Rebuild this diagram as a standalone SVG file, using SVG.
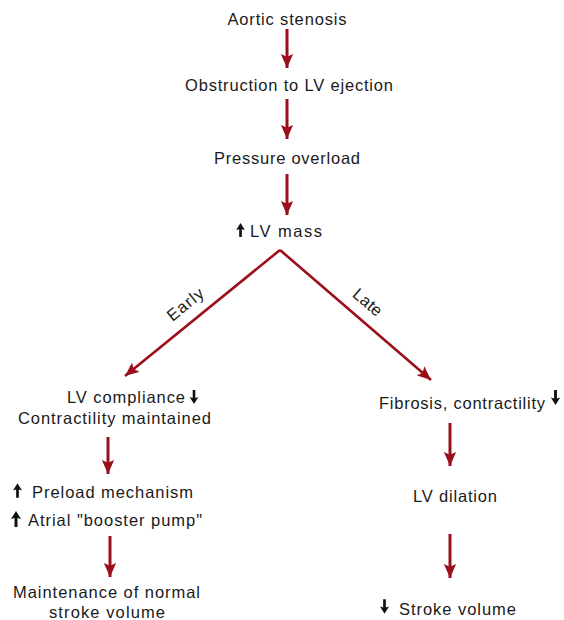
<svg xmlns="http://www.w3.org/2000/svg" width="564" height="620" viewBox="0 0 564 620">
<defs>
<style>
text{font-family:"Liberation Sans",Arial,sans-serif;font-size:16.5px;fill:#1a1a1a;}
.c{text-anchor:middle;}
.conn{stroke:#9b0f1a;fill:none;}
.v{stroke-width:3;}
.d{stroke-width:2.6;}
.sym{fill:#111;}
</style>
<marker id="hv" markerUnits="userSpaceOnUse" markerWidth="14" markerHeight="18" refX="16" refY="7" orient="auto" viewBox="0 0 16 14">
<path d="M0,0 L16,7 L0,14 L3,7 Z" fill="#9b0f1a"/>
</marker>
<marker id="hd" markerUnits="userSpaceOnUse" markerWidth="14" markerHeight="12" refX="14" refY="6" orient="auto" viewBox="0 0 14 12">
<path d="M0,0 L14,6 L0,12 L3,6 Z" fill="#9b0f1a"/>
</marker>
<symbol id="up" viewBox="0 0 10 16" overflow="visible">
<path d="M5,0 L10,8 L6.5,7 L6.5,16 L3.5,16 L3.5,7 L0,8 Z"/>
</symbol>
<symbol id="dn" viewBox="0 0 10 16" overflow="visible">
<path d="M5,16 L10,8 L6.5,9 L6.5,0 L3.5,0 L3.5,9 L0,8 Z"/>
</symbol>
</defs>
<rect width="564" height="620" fill="#fff"/>

<g id="connectors">
<line class="conn v" x1="287" y1="29" x2="287" y2="68" marker-end="url(#hv)"/>
<line class="conn v" x1="287" y1="99" x2="287" y2="139" marker-end="url(#hv)"/>
<line class="conn v" x1="287" y1="174" x2="287" y2="215" marker-end="url(#hv)"/>
<line class="conn d" x1="280" y1="250" x2="125" y2="376" marker-end="url(#hd)"/>
<line class="conn d" x1="280" y1="250" x2="431" y2="380" marker-end="url(#hd)"/>
<line class="conn v" x1="108" y1="437" x2="108" y2="474" marker-end="url(#hv)"/>
<line class="conn v" x1="110" y1="536" x2="110" y2="577" marker-end="url(#hv)"/>
<line class="conn v" x1="450" y1="423" x2="450" y2="466" marker-end="url(#hv)"/>
<line class="conn v" x1="450" y1="534" x2="450" y2="578" marker-end="url(#hv)"/>
<text x="185" y="310" class="c" textLength="42" transform="rotate(-39 185 304)">Early</text>
<text x="368" y="308" class="c" textLength="33" transform="rotate(41 368 302)">Late</text>
</g>

<g id="n1"><text x="287" y="25" class="c" textLength="119">Aortic stenosis</text></g>
<g id="n2"><text x="289" y="91" class="c" textLength="208">Obstruction to LV ejection</text></g>
<g id="n3"><text x="287" y="164" class="c" textLength="146">Pressure overload</text></g>
<g id="n4"><use href="#up" class="sym" x="236" y="223" width="9" height="14"/><text x="250" y="237" textLength="72">LV mass</text></g>
<g id="n5">
<text x="67" y="403" textLength="118">LV compliance</text><use href="#dn" class="sym" x="189" y="390" width="10" height="14"/>
<text x="18" y="424" textLength="193">Contractility maintained</text>
</g>
<g id="n6">
<use href="#up" class="sym" x="13" y="483" width="9" height="15"/><text x="32" y="498" textLength="161">Preload mechanism</text>
<use href="#up" class="sym" x="11" y="511" width="10" height="16"/><text x="28" y="526" textLength="174">Atrial "booster pump"</text>
</g>
<g id="n7">
<text x="13" y="598" textLength="187">Maintenance of normal</text>
<text x="49" y="618" textLength="116">stroke volume</text>
</g>
<g id="n8"><text x="379" y="409" textLength="166">Fibrosis, contractility</text><use href="#dn" class="sym" x="550" y="390" width="11" height="15"/></g>
<g id="n9"><text x="413" y="502" textLength="84">LV dilation</text></g>
<g id="n10"><use href="#dn" class="sym" x="380" y="599" width="9" height="15"/><text x="399" y="615" textLength="117">Stroke volume</text></g>
</svg>
